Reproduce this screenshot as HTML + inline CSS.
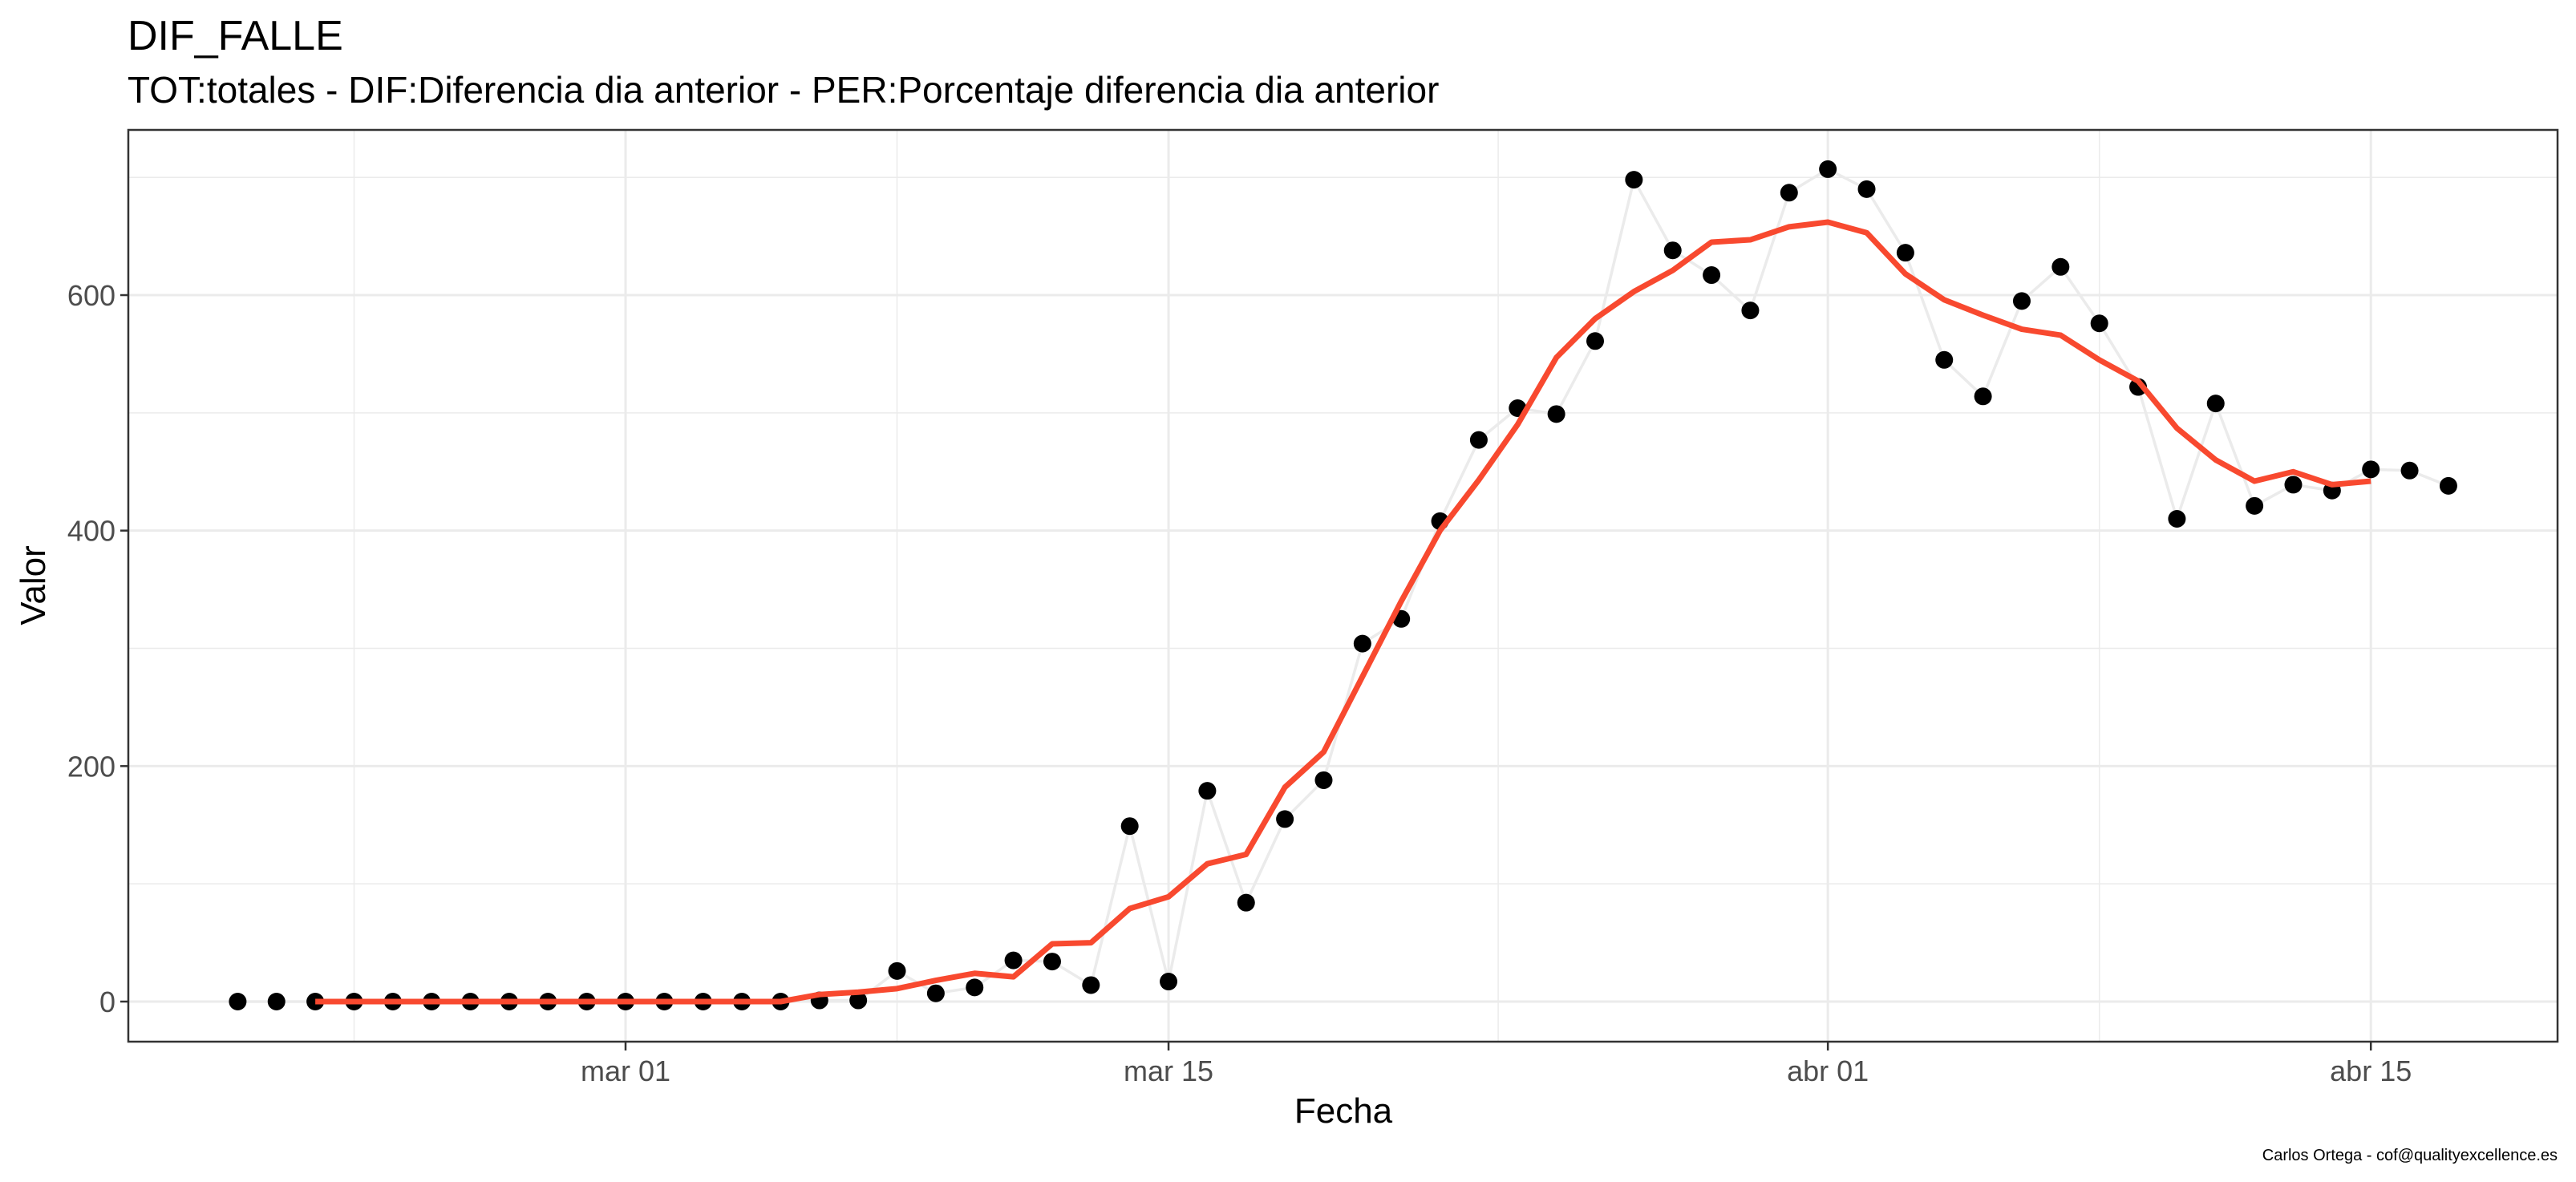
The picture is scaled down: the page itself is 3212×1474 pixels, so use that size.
<!DOCTYPE html>
<html><head><meta charset="utf-8"><style>
html,body{margin:0;padding:0;background:#fff;}
svg{display:block;font-family:"Liberation Sans",Arial,sans-serif;}
</style></head><body>
<svg id="chart" width="3212" height="1474" viewBox="0 0 3212 1474">
<text x="159" y="62" font-size="52" fill="#000">DIF_FALLE</text>
<text x="159" y="128" font-size="46" fill="#000">TOT:totales - DIF:Diferencia dia anterior - PER:Porcentaje diferencia dia anterior</text>
<g id="grid"></g>
<g id="marks"></g>
<rect x="160" y="162" width="3029" height="1137" fill="none" stroke="#333" stroke-width="2.5"/>
<g id="axes"></g>
<text x="1675" y="1400" font-size="44" text-anchor="middle" fill="#000">Fecha</text>
<text transform="translate(56,730) rotate(-90)" font-size="44" text-anchor="middle" fill="#000">Valor</text>
<text x="3189" y="1447" font-size="20" text-anchor="end" fill="#000">Carlos Ortega - cof@qualityexcellence.es</text>
</svg>
<script>
// day offsets from 2020-03-01
const pointDays = [];
for (let d = -10; d <= 47; d++) pointDays.push(d);
const pointValues = [0,0,0,0,0,0,0,0,0,0,0,0,0,0,0,1,1,26,7,12,35,34,14,149,17,179,84,155,188,304,325,408,477,504,499,561,698,638,617,587,687,707,690,636,545,514,595,624,576,522,410,508,421,439,434,452,451,438];
const avgStartDay = -8;
const avgValues = [0,0,0,0,0,0,0,0,0,0,0,0,0,6,8,11,18,24,21,49,50,79,89,117,125,182,212,276,340,400,443,490,547,580,603,621,645,647,658,662,653,618,596,583,571,566,545,527,487,460,442,450,439,442];
const xTickDays = [0,14,31,45];
const xTickLabels = ["mar 01","mar 15","abr 01","abr 15"];
const xMinorDays = [-7,7,22.5,38];
const yTicks = [0,200,400,600];
const yMinor = [100,300,500,700];

const L=160,R=3189,T=162,B=1299;
const x = d => 780 + d*48.36;
const y = v => 1249 - v*1.4683;
const NS="http://www.w3.org/2000/svg";
function mk(tag, attrs, parent){const e=document.createElementNS(NS,tag);for(const k in attrs)e.setAttribute(k,attrs[k]);parent.appendChild(e);return e;}
const grid=document.getElementById('grid'), marks=document.getElementById('marks'), axes=document.getElementById('axes');

yMinor.forEach(v=>{const e=mk('line',{x1:L,x2:R,y1:y(v),y2:y(v),stroke:'#ebebeb','stroke-width':1.5},grid);

});
xMinorDays.forEach(d=>{const e=mk('line',{x1:x(d),x2:x(d),y1:T,y2:B,stroke:'#ebebeb','stroke-width':1.5},grid);

});
yTicks.forEach(v=>{const e=mk('line',{x1:L,x2:R,y1:y(v),y2:y(v),stroke:'#ebebeb','stroke-width':3},grid);


const t=mk('line',{x1:L-10,x2:L,y1:y(v),y2:y(v),stroke:'#333','stroke-width':2.5},axes);


const l=mk('text',{x:L-16,y:y(v)+13,'font-size':36,'text-anchor':'end',fill:'#4d4d4d'},axes);l.textContent=v;

});
xTickDays.forEach((d,i)=>{const e=mk('line',{x1:x(d),x2:x(d),y1:T,y2:B,stroke:'#ebebeb','stroke-width':3},grid);


const t=mk('line',{x1:x(d),x2:x(d),y1:B,y2:B+11,stroke:'#333','stroke-width':2.5},axes);


const l=mk('text',{x:x(d),y:1348,'font-size':36,'text-anchor':'middle',fill:'#4d4d4d'},axes);l.textContent=xTickLabels[i];

});

const gp=mk('polyline',{points:pointDays.map((d,i)=>x(d)+','+y(pointValues[i])).join(' '),fill:'none',stroke:'#ebebeb','stroke-width':3.5},marks);


pointDays.forEach((d,i)=>{const c=mk('circle',{cx:x(d),cy:y(pointValues[i]),r:11,fill:'#000'},marks);

});
const rp=mk('polyline',{points:avgValues.map((v,i)=>x(avgStartDay+i)+','+y(v)).join(' '),fill:'none',stroke:'#f8492f','stroke-width':7,'stroke-linejoin':'round'},marks);


</script>
</body></html>
